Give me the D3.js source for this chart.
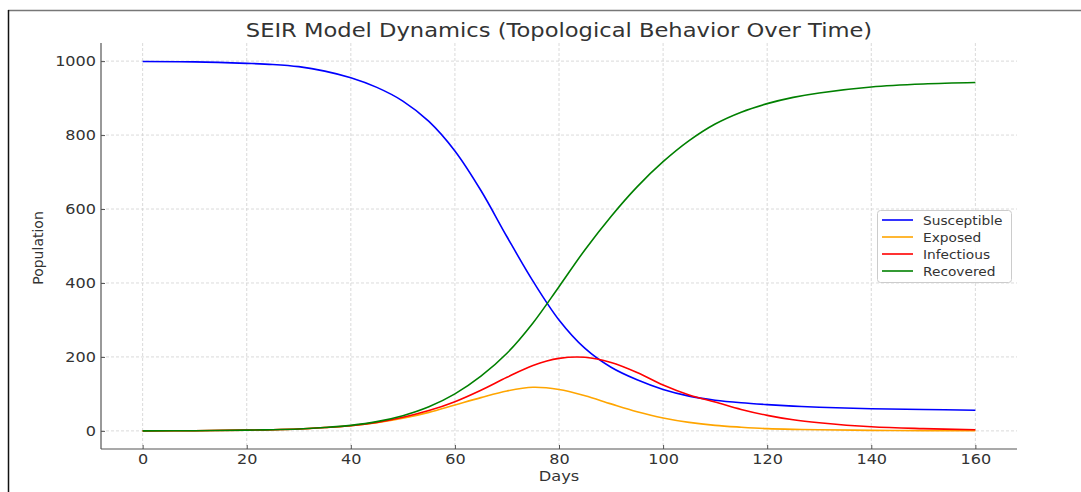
<!DOCTYPE html>
<html>
<head>
<meta charset="utf-8">
<script src="https://cdn.jsdelivr.net/npm/d3@7"></script>
<style>
  body { margin: 0; background: #fff; }
  text { font-family: "DejaVu Sans", sans-serif; }
</style>
</head>
<body>
<div id="chart"></div>
<script>
// SEIR curves (population per day)
const days = [0, 10, 20, 25, 30, 35, 40, 45, 50, 55, 60, 65, 70, 75, 80, 85, 90, 95, 100, 105, 110, 115, 120, 125, 130, 140, 150, 160];
const susceptible = [999, 998, 994, 991, 985, 973, 955, 929, 892, 837, 757, 650, 525, 405, 300, 223, 172, 138, 112, 94, 83, 76, 71, 67, 64, 60, 58, 56];
const exposed = [0, 0.5, 2, 3, 5, 9, 14, 22, 34, 50, 70, 90, 108, 118, 112, 95, 73, 52, 35, 23, 15, 10, 6, 4, 3, 1.5, 0.8, 0.5];
const infectious = [0, 0.5, 2, 3, 5, 9, 14, 23, 37, 55, 79, 110, 145, 177, 196, 199, 185, 158, 124, 97, 78, 58, 42, 30, 22, 11, 6, 3];
const recovered = [0, 0.5, 2, 3, 5, 9, 15, 25, 41, 65, 100, 148, 210, 292, 390, 490, 580, 660, 728, 785, 830, 862, 885, 902, 914, 930, 938, 942];

const seriesNames = ["Susceptible", "Exposed", "Infectious", "Recovered"];
const seriesColors = ["blue", "orange", "red", "green"];
const seriesValues = [susceptible, exposed, infectious, recovered];

const xTicks = [0, 20, 40, 60, 80, 100, 120, 140, 160];
const yTicks = [0, 200, 400, 600, 800, 1000];

const w = 1081;
const h = 492;
const m = { left: 101, right: 1017, top: 43, bottom: 449 };
const stretch = 1.19; // the picture's text is a little wider than plain DejaVu

const svg = d3.select("#chart").append("svg")
  .attr("width", w)
  .attr("height", h);

// frame lines around the figure (screenshot border)
svg.append("line").attr("x1", 8).attr("x2", w).attr("y1", 10.5).attr("y2", 10.5)
  .attr("stroke", "#777").attr("stroke-width", 1.5);
svg.append("line").attr("x1", 8.5).attr("x2", 8.5).attr("y1", 10).attr("y2", h)
  .attr("stroke", "#111").attr("stroke-width", 1.5);

const x = d3.scaleLinear().domain([-8, 168]).range([m.left, m.right]);
const y = d3.scaleLinear().domain([-49, 1049]).range([m.bottom, m.top]);

// grid
svg.append("g").selectAll("line").data(xTicks).enter().append("line")
  .attr("x1", d => x(d)).attr("x2", d => x(d))
  .attr("y1", m.top).attr("y2", m.bottom)
  .attr("stroke", "#d0d0d0").attr("stroke-dasharray", "3,2").attr("stroke-width", 0.8);
svg.append("g").selectAll("line").data(yTicks).enter().append("line")
  .attr("x1", m.left).attr("x2", m.right)
  .attr("y1", d => y(d)).attr("y2", d => y(d))
  .attr("stroke", "#d0d0d0").attr("stroke-dasharray", "3,2").attr("stroke-width", 0.8);

// axes with inward ticks
const xAxis = d3.axisBottom(x).tickValues(xTicks).tickSize(-4).tickPadding(5);
const yAxis = d3.axisLeft(y).tickValues(yTicks).tickFormat(d3.format("d"))
  .tickSize(-4).tickPadding(5 / stretch);

const gx = svg.append("g").attr("transform", `translate(0, ${m.bottom})`).call(xAxis);
const gy = svg.append("g").attr("transform", `translate(${m.left}, 0)`).call(yAxis);
[gx, gy].forEach(g => {
  g.select(".domain").attr("stroke", "#555").attr("stroke-width", 1.2);
  g.selectAll(".tick line").attr("stroke", "#555");
  g.selectAll(".tick text").attr("fill", "#333").style("font-size", "13.5px")
    .style("font-family", "DejaVu Sans")
    .attr("transform", `scale(${stretch},1)`);
});
// only the spines, no outer extension beyond the axes box
gx.select(".domain").attr("d", `M${m.left},0H${m.right}`);
gy.select(".domain").attr("d", `M0,${m.top}V${m.bottom}`);

// lines
const line = d3.line().curve(d3.curveCatmullRom.alpha(0.5));
seriesValues.forEach((vals, i) => {
  svg.append("path")
    .datum(days.map((d, j) => [x(d), y(vals[j])]))
    .attr("d", line)
    .attr("fill", "none")
    .attr("stroke", seriesColors[i])
    .attr("stroke-width", 1.6);
});

// labels
svg.append("text")
  .attr("transform", `translate(${(m.left + m.right) / 2}, 37) scale(${stretch},1)`)
  .attr("text-anchor", "middle")
  .attr("fill", "#333")
  .style("font-size", "19px")
  .text("SEIR Model Dynamics (Topological Behavior Over Time)");

svg.append("text")
  .attr("transform", `translate(${(m.left + m.right) / 2}, 481) scale(1.12,1)`)
  .attr("text-anchor", "middle")
  .attr("fill", "#333")
  .style("font-size", "14.5px")
  .text("Days");

svg.append("text")
  .attr("transform", `translate(43, ${(m.top + m.bottom) / 2 + 2}) rotate(-90)`)
  .attr("text-anchor", "middle")
  .attr("fill", "#333")
  .style("font-size", "14px")
  .text("Population");

// legend
const lg = svg.append("g").attr("transform", "translate(877, 210)");
lg.append("rect")
  .attr("x", 0.5).attr("y", 0.5).attr("width", 134).attr("height", 72)
  .attr("rx", 3)
  .attr("fill", "#fff").attr("fill-opacity", 0.85)
  .attr("stroke", "#ccc");
seriesNames.forEach((name, i) => {
  const cy = 10 + i * 17;
  lg.append("line")
    .attr("x1", 5).attr("x2", 36).attr("y1", cy).attr("y2", cy)
    .attr("stroke", seriesColors[i]).attr("stroke-width", 1.6);
  lg.append("text")
    .attr("transform", `translate(46, ${cy + 4.5}) scale(1.1,1)`)
    .attr("fill", "#333")
    .style("font-size", "12.5px")
    .text(name);
});
</script>
</body>
</html>
